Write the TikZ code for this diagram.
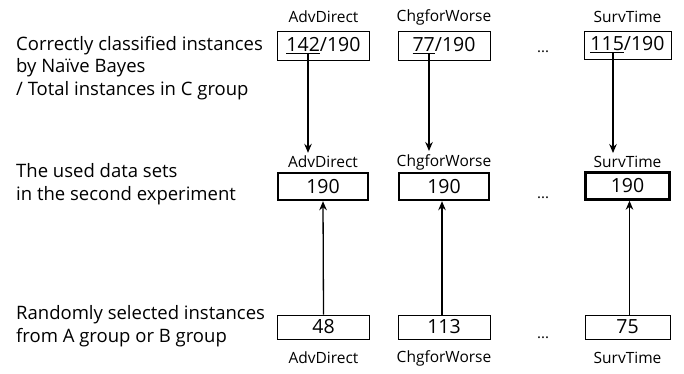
\documentclass[tikz,border=0pt]{standalone}
\usepackage{fontspec}
\setmainfont{Open Sans}
\usetikzlibrary{arrows.meta}
\begin{document}
\begin{tikzpicture}[x=1pt,y=-1pt,
  lbl/.style={inner sep=0pt, font=\fontsize{15.5}{18}\selectfont},
  side/.style={inner sep=0pt, anchor=west, align=left, font=\fontsize{18.5}{22.5}\selectfont},
  boxthin/.style={draw, line width=0.9pt, inner sep=0pt, minimum width=92pt, font=\fontsize{19.5}{22}\selectfont},
  boxthick/.style={draw, line width=2.4pt, inner sep=0pt, minimum width=90pt, font=\fontsize{19.5}{22}\selectfont},
  dots/.style={inner sep=0pt, anchor=base, font=\fontsize{15}{16}\selectfont},
  arr/.style={line width=1.3pt, -{Stealth[length=9pt,width=7.5pt]}}
]
\useasboundingbox (0,0) rectangle (684,374);

% left texts
\node[side] (t1) at (16,68) {Correctly classified instances\\by Naïve Bayes\\/ Total instances in C group};
\node[side] (t2) at (16,184) {The used data sets\\in the second experiment};
\node[side] (t3) at (16,326) {Randomly selected instances\\from A group or B group};

% top row
\node[boxthin, minimum height=29pt] (a1) at (323.5,45.5) {\underline{142}/190};
\node[boxthin, minimum height=29pt] (c1) at (444,45.5) {\underline{77}/190};
\node[boxthin, minimum height=28pt, minimum width=87pt] (s1) at (627.5,45) {\underline{115}/190};
\node[lbl] (la1) at (323.5,17) {AdvDirect};
\node[lbl] (lc1) at (444,17) {ChgforWorse};
\node[lbl] (ls1) at (627.5,17) {SurvTime};

% middle row
\node[boxthick, minimum height=27pt] (a2) at (323,186.5) {190};
\node[boxthick, minimum height=27pt] (c2) at (444,186.5) {190};
\node[boxthick, minimum height=27pt, minimum width=84pt] (s2) at (627.5,186) {190};
\node[lbl] (la2) at (323,162) {AdvDirect};
\node[lbl] (lc2) at (444,162) {ChgforWorse};
\node[lbl] (ls2) at (627.5,162) {SurvTime};

% bottom row
\node[boxthin, minimum height=24pt] (a3) at (323.5,327) {48};
\node[boxthin, minimum height=24pt] (c3) at (444,327) {113};
\node[boxthin, minimum height=24pt, minimum width=85pt] (s3) at (627.5,327) {75};
\node[lbl] (la3) at (323.5,358) {AdvDirect};
\node[lbl] (lc3) at (444,358) {ChgforWorse};
\node[lbl] (ls3) at (627.5,358) {SurvTime};

% dots
\node[dots] (d1) at (543,53) {...};
\node[dots] (d2) at (543,198) {...};
\node[dots] (d3) at (543,338) {...};

% arrow start points at the underlines
\coordinate (u1) at (308,53);
\coordinate (u2) at (429,53);
\coordinate (u3) at (613,53);

\draw[arr] (u1) -- ([yshift=3pt]u1 |- la2.north);
\draw[arr] (u2) -- ([yshift=3pt]u2 |- lc2.north);
\draw[arr] (u3) -- ([yshift=3pt]u3 |- ls2.north);

\draw[arr] (a3.north) -- (a2.south);
\draw[arr] ([xshift=-2pt]c3.north) -- ([xshift=-2pt]c2.south);
\draw[arr] ([xshift=2pt]s3.north) -- ([xshift=2pt]s2.south);
\end{tikzpicture}
\end{document}
